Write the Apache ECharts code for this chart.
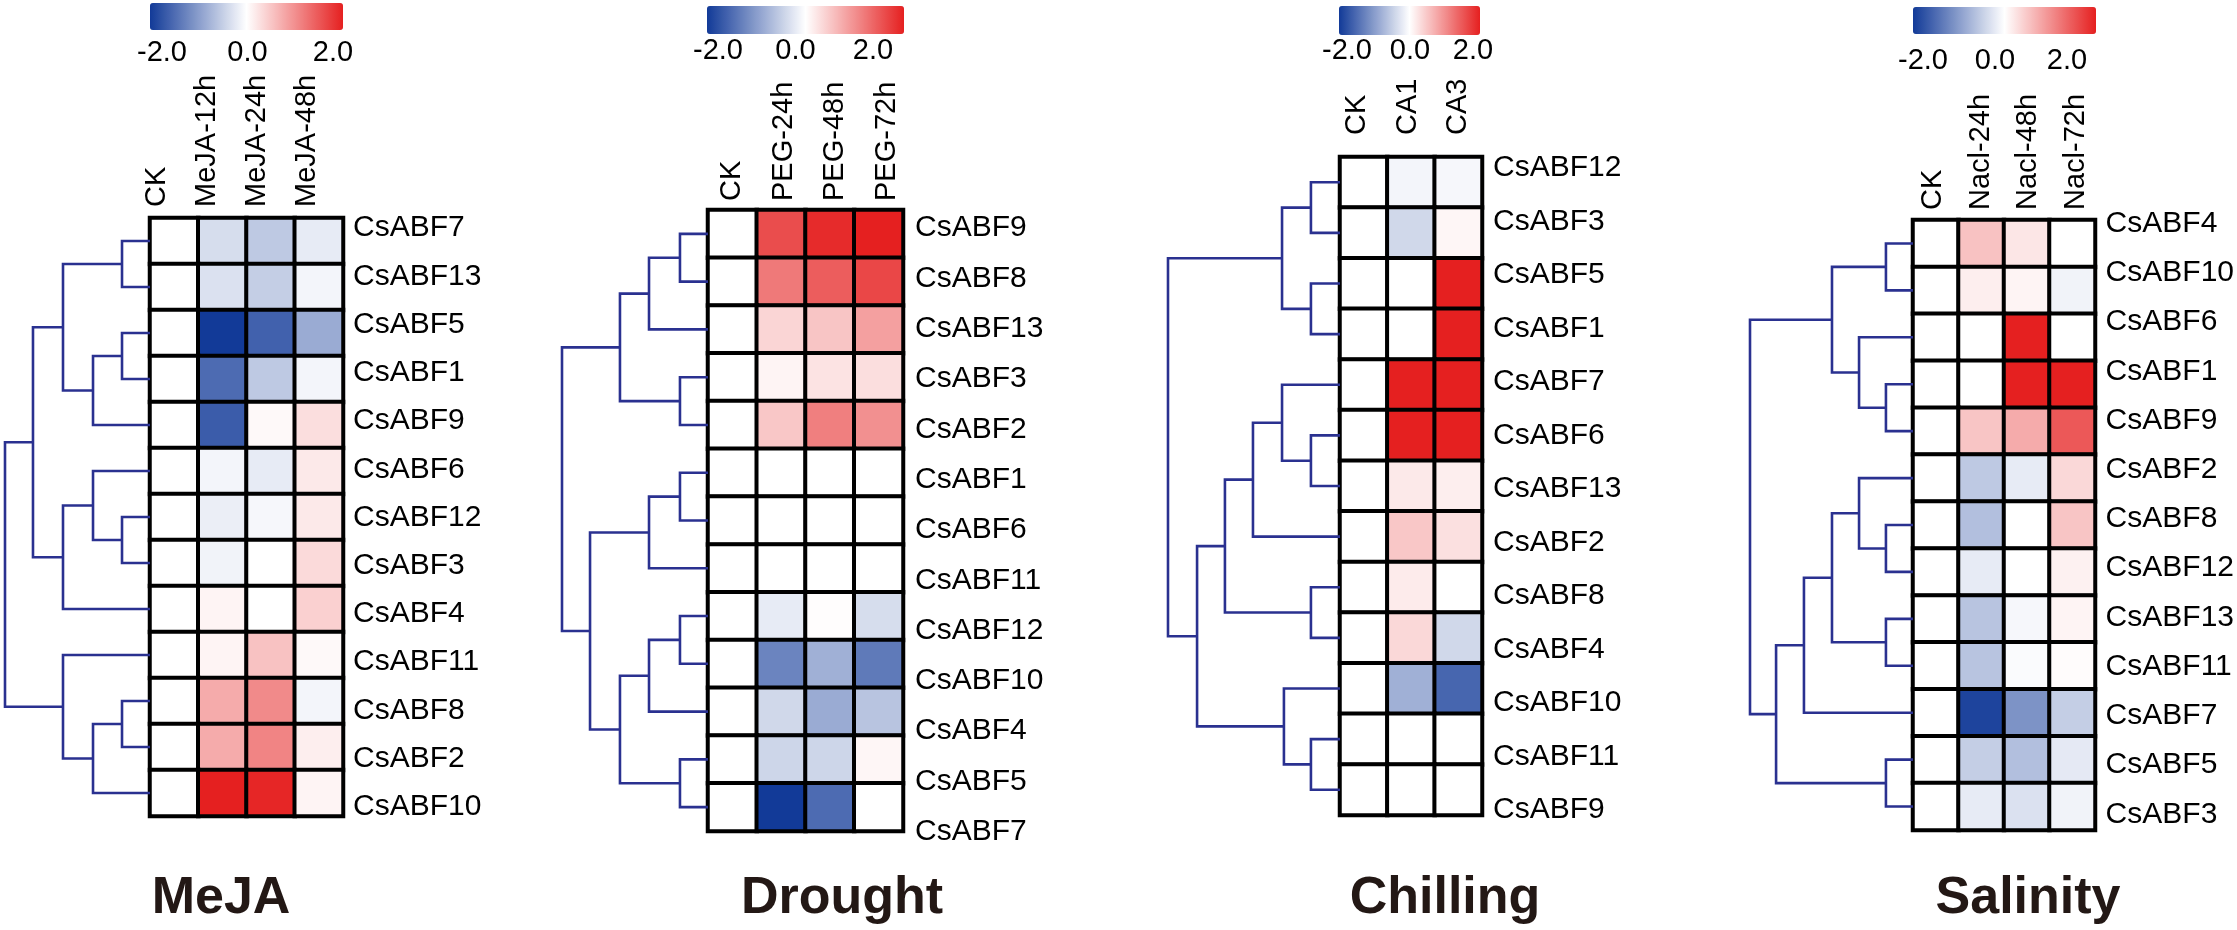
<!DOCTYPE html>
<html><head><meta charset="utf-8">
<script src="https://cdn.jsdelivr.net/npm/echarts@6/dist/echarts.min.js"></script>
<style>html,body{margin:0;padding:0;background:#fff}#c{width:2237px;height:930px}</style>
</head><body><div id="c"></div>
<script>
// ---------------- DATA ----------------
const colorTicks = [-2, 0, 2];
const panelTitles = ['MeJA', 'Drought', 'Chilling', 'Salinity'];

const mejaCols = ['CK', 'MeJA-12h', 'MeJA-24h', 'MeJA-48h'];
const mejaRows = ['CsABF7','CsABF13','CsABF5','CsABF1','CsABF9','CsABF6','CsABF12','CsABF3','CsABF4','CsABF11','CsABF8','CsABF2','CsABF10'];
const mejaValues = [
  [0,-0.35,-0.55,-0.2],
  [0,-0.3,-0.5,-0.1],
  [0,-2.0,-1.6,-0.85],
  [0,-1.5,-0.55,-0.1],
  [0,-1.65,0.05,0.3],
  [0,-0.1,-0.2,0.2],
  [0,-0.17,-0.08,0.2],
  [0,-0.12,0,0.33],
  [0,0.1,0,0.42],
  [0,0.1,0.55,0.05],
  [0,0.75,1.05,-0.1],
  [0,0.75,1.1,0.15],
  [0,2.0,1.95,0.1]
];
const mejaLinkage = [[0,1,19.3],[2,3,19.3],[14,4,39.3],[13,15,60],[6,7,19.3],[5,17,39.3],[18,8,60],[16,19,80.7],[10,11,19.3],[21,12,39.3],[9,22,60],[20,23,100]];

const droughtCols = ['CK', 'PEG-24h', 'PEG-48h', 'PEG-72h'];
const droughtRows = ['CsABF9','CsABF8','CsABF13','CsABF3','CsABF2','CsABF1','CsABF6','CsABF11','CsABF12','CsABF10','CsABF4','CsABF5','CsABF7'];
const droughtValues = [
  [0,1.6,1.9,2.0],
  [0,1.2,1.45,1.65],
  [0,0.38,0.52,0.85],
  [0,0.1,0.25,0.3],
  [0,0.5,1.15,1.0],
  [0,0,0,0],
  [0,0,0,0],
  [0,0,0,0],
  [0,-0.2,0.02,-0.35],
  [0,-1.25,-0.8,-1.35],
  [0,-0.4,-0.85,-0.6],
  [0,-0.42,-0.42,0.08],
  [0,-2.0,-1.5,0]
];
const droughtLinkage = [[0,1,19.2],[13,2,40.4],[3,4,19.2],[14,15,60.3],[5,6,19.2],[17,7,40.4],[8,9,19.2],[19,10,40.4],[11,12,19.2],[20,21,60.3],[18,22,80.8],[16,23,100]];

const chillCols = ['CK', 'CA1', 'CA3'];
const chillRows = ['CsABF12','CsABF3','CsABF5','CsABF1','CsABF7','CsABF6','CsABF13','CsABF2','CsABF8','CsABF4','CsABF10','CsABF11','CsABF9'];
const chillValues = [
  [0,-0.1,-0.08],
  [0,-0.4,0.08],
  [0,0,2],
  [0,0,2],
  [0,2,2],
  [0,2,2],
  [0,0.2,0.15],
  [0,0.5,0.28],
  [0,0.18,0],
  [0,0.35,-0.4],
  [0,-0.8,-1.55],
  [0,0,0],
  [0,0,0]
];
const chillLinkage = [[0,1,16.9],[2,3,16.9],[13,14,33.7],[5,6,16.9],[4,16,33.7],[17,7,50.6],[8,9,16.9],[18,19,66.9],[11,12,16.9],[10,21,32.6],[20,22,83.1],[15,23,100]];

const saltCols = ['CK', 'Nacl-24h', 'Nacl-48h', 'Nacl-72h'];
const saltRows = ['CsABF4','CsABF10','CsABF6','CsABF1','CsABF9','CsABF2','CsABF8','CsABF12','CsABF13','CsABF11','CsABF7','CsABF5','CsABF3'];
const saltValues = [
  [0,0.55,0.22,0],
  [0,0.15,0.1,-0.12],
  [0,0,2,0],
  [0,0,2,2],
  [0,0.52,0.75,1.5],
  [0,-0.55,-0.2,0.35],
  [0,-0.65,0,0.52],
  [0,-0.2,0,0.13],
  [0,-0.6,-0.08,0.1],
  [0,-0.6,-0.04,0.03],
  [0,-1.9,-1.1,-0.5],
  [0,-0.5,-0.65,-0.22],
  [0,-0.2,-0.3,-0.12]
];
const saltLinkage = [[0,1,16.6],[3,4,16.6],[2,14,33.1],[13,15,49.7],[6,7,16.6],[5,17,33.1],[8,9,16.6],[18,19,49.7],[20,10,66.9],[11,12,16.6],[21,22,84],[16,23,100]];

// ---------------- LAYOUT / STYLE ----------------
const FONT = 'Liberation Sans, Arial, Helvetica, sans-serif';
const BLUE = '#123a98', RED = '#e52020', DENDRO = '#2a3190';
const panels = [
  {cols: mejaCols, rows: mejaRows, values: mejaValues, link: mejaLinkage,
   heat:[150,218,193,598], bar:[150,3,193,27], barLbl:[162,333,52], colLbl:[132,200,207], rowLbl:[353,204,627], root:5, title:221},
  {cols: droughtCols, rows: droughtRows, values: droughtValues, link: droughtLinkage,
   heat:[708,210,195,621], bar:[707,6,197,28], barLbl:[718,873,50], colLbl:[706,207,201], rowLbl:[915,203,654], root:562, title:842},
  {cols: chillCols, rows: chillRows, values: chillValues, link: chillLinkage,
   heat:[1340,157,142,658], bar:[1339,6,141,29], barLbl:[1347,1473,50], colLbl:[1332,151.5,135], rowLbl:[1493,141,696], root:1168, title:1445},
  {cols: saltCols, rows: saltRows, values: saltValues, link: saltLinkage,
   heat:[1913,220,182,610], bar:[1913,7,183,27], barLbl:[1923,2067,60], colLbl:[1909,191,210], rowLbl:[2106,199,640], root:1750, title:2028}
];

const option = {
  animation: false, backgroundColor: '#ffffff',
  textStyle: {fontFamily: FONT},
  grid: [], xAxis: [], yAxis: [], series: [], visualMap: [], graphic: []
};
function addGrid(g, xa, ya) {
  option.grid.push(Object.assign({containLabel: false}, g));
  const gi = option.grid.length - 1;
  option.xAxis.push(Object.assign({gridIndex: gi}, xa));
  option.yAxis.push(Object.assign({gridIndex: gi}, ya));
  return gi;
}
function dendroLines(linkage, n) {
  const pos = [];
  for (let i = 0; i < n; i++) pos.push([0, i]);
  const out = [];
  linkage.forEach(([a, b, h]) => {
    const pa = pos[a], pb = pos[b];
    out.push({coords: [[pa[0], pa[1]], [h, pa[1]], [h, pb[1]], [pb[0], pb[1]]]});
    pos.push([h, (pa[1] + pb[1]) / 2]);
  });
  return out;
}
const noAxisParts = {axisLine: {show: false}, axisTick: {show: false}, splitLine: {show: false}};

panels.forEach((p, k) => {
  const n = p.rows.length;
  // heatmap
  const hg = addGrid({left: p.heat[0], top: p.heat[1], width: p.heat[2], height: p.heat[3]},
    {type: 'category', data: p.cols, show: false},
    {type: 'category', data: p.rows, inverse: true, show: false});
  const data = [];
  p.values.forEach((row, r) => row.forEach((v, c) => data.push([c, r, v])));
  option.series.push({type: 'heatmap', xAxisIndex: hg, yAxisIndex: hg, data: data,
    itemStyle: {borderColor: '#000', borderWidth: 4}, emphasis: {disabled: true}});
  const sIdx = option.series.length - 1;
  // color bar
  option.visualMap.push({type: 'continuous', min: -2, max: 2, seriesIndex: sIdx, orient: 'horizontal',
    left: p.bar[0], top: p.bar[1], itemHeight: p.bar[2], itemWidth: p.bar[3], padding: 0,
    calculable: false, hoverLink: false, inRange: {color: [BLUE, '#ffffff', RED]}});
  // color bar tick labels
  addGrid({left: p.barLbl[0], width: p.barLbl[1] - p.barLbl[0], top: p.barLbl[2] - 14, height: 1},
    Object.assign({type: 'value', min: colorTicks[0], max: colorTicks[colorTicks.length - 1], interval: 2, position: 'top',
      axisLabel: {margin: 0, fontSize: 29, color: '#000', inside: true, verticalAlign: 'top', showMinLabel: true, showMaxLabel: true,
        alignMinLabel: 'center', alignMaxLabel: 'center', formatter: v => v.toFixed(1)}}, noAxisParts),
    {type: 'value', show: false});
  // column labels
  addGrid({left: p.colLbl[0], width: p.colLbl[1], top: p.colLbl[2], height: 1},
    Object.assign({type: 'category', data: p.cols, position: 'top',
      axisLabel: {rotate: 90, margin: 0, fontSize: 29, color: '#000', interval: 0}}, noAxisParts),
    {type: 'value', show: false});
  // row labels
  addGrid({left: p.rowLbl[0] - 10, width: 10, top: p.rowLbl[1], height: p.rowLbl[2]},
    {type: 'value', show: false},
    Object.assign({type: 'category', data: p.rows, inverse: true, position: 'right',
      axisLabel: {margin: 0, fontSize: 30, color: '#000', align: 'left', interval: 0}}, noAxisParts));
  // dendrogram
  const dg = addGrid({left: p.root, width: p.heat[0] - p.root, top: p.heat[1], height: p.heat[3]},
    {type: 'value', min: 0, max: 100, inverse: true, show: false},
    {type: 'value', min: -0.5, max: n - 0.5, inverse: true, show: false});
  option.series.push({type: 'lines', coordinateSystem: 'cartesian2d', xAxisIndex: dg, yAxisIndex: dg,
    polyline: true, silent: true, data: dendroLines(p.link, n),
    lineStyle: {color: DENDRO, width: 2.6, opacity: 1}});
  // title
  option.graphic.push({type: 'text', x: p.title, y: 899, silent: true,
    style: {text: panelTitles[k], fontSize: 52, fontWeight: 'bold', fontFamily: FONT, fill: '#231815',
      textAlign: 'center', textVerticalAlign: 'middle'}});
});

const chart = echarts.init(document.getElementById('c'), null, {renderer: 'canvas'});
chart.setOption(option);
</script></body></html>
